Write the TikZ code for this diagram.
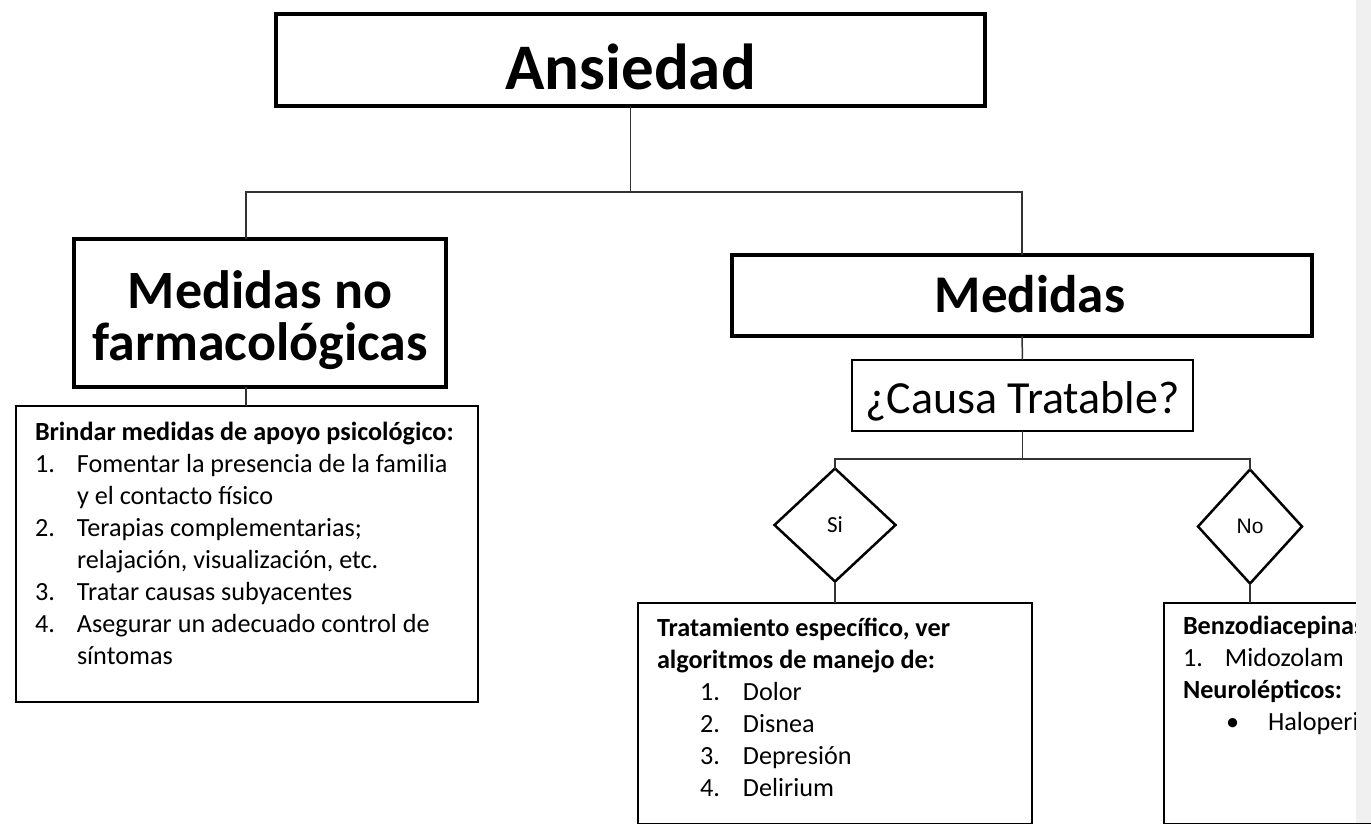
\documentclass[tikz,border=0pt]{standalone}
\usepackage{fontspec}
\setmainfont{Carlito}
\newfontfamily\arialf{Liberation Sans}
\usepackage{array}
\usetikzlibrary{shapes.geometric}
\definecolor{stripgray}{HTML}{F0F0F0}
\begin{document}
\begin{tikzpicture}[x=1pt,y=-1pt,
  thickbox/.style={draw=black,line width=4pt,rectangle,inner sep=0pt,outer sep=0pt},
  thinbox/.style={draw=black,line width=1.8pt,rectangle,inner sep=0pt,outer sep=0pt},
  dia/.style={draw=black,line width=2.5pt,diamond,inner sep=0pt,outer sep=0pt},
  conn/.style={draw=black!80,line width=1.5pt},
  txt/.style={inner sep=0pt,outer sep=0pt,anchor=base west,font=\fontsize{26.2}{32}\selectfont}
]
\useasboundingbox (0,0) rectangle (1371,823);
\fill[white] (0,0) rectangle (1371,823);

% main boxes
\node[thickbox,minimum width=709pt,minimum height=92pt,text height=58pt,text depth=0pt,
      font=\fontsize{65}{78}\selectfont\bfseries] (ans) at (630.5,60) {Ansiedad};
\node[thickbox,minimum width=372pt,minimum height=148pt,align=center,text height=94pt,text depth=0pt,
      font=\fontsize{54}{52}\selectfont\bfseries] (mnf) at (260,313) {Medidas no\\farmacológicas};
\node[thickbox,minimum width=580pt,minimum height=81pt,text height=33pt,text depth=0pt,
      font=\fontsize{53}{64}\selectfont\bfseries] (med) at (1022,295.5) {\hspace*{16pt}Medidas};
\node[thinbox,minimum width=341pt,minimum height=71pt,text height=35pt,text depth=0pt,
      font=\fontsize{46}{55}\selectfont] (causa) at (1022.5,395.5) {¿Causa Tratable?};

% decisions
\node[dia,minimum width=121pt,minimum height=113pt,font=\fontsize{23}{28}\selectfont] (si) at (835,525) {Si};
\node[dia,minimum width=104pt,minimum height=114pt,font=\arialf\fontsize{21}{25}\selectfont] (no) at (1250,526.5) {No};

% content boxes
\node[thinbox,minimum width=462pt,minimum height=296pt] (lbox) at (247,554) {};
\node[thinbox,minimum width=394pt,minimum height=220.5pt] (tbox) at (835,713.25) {};
\node[thinbox,minimum width=236pt,minimum height=220.5pt] (bbox) at (1282,713.25) {};

\node[txt] (ltext) at (35,440) {\begin{tabular}[t]{@{}p{42pt}@{}l@{}}
\multicolumn{2}{@{}l@{}}{\bfseries Brindar medidas de apoyo psicológico:}\\
1. & Fomentar la presencia de la familia\\
   & y el contacto físico\\
2. & Terapias complementarias;\\
   & relajación, visualización, etc.\\
3. & Tratar causas subyacentes\\
4. & Asegurar un adecuado control de\\
   & síntomas
\end{tabular}};

\node[txt] (ttext) at (657,636) {\begin{tabular}[t]{@{}p{43pt}@{}p{43pt}@{}l@{}}
\multicolumn{3}{@{}l@{}}{\bfseries Tratamiento específico, ver}\\
\multicolumn{3}{@{}l@{}}{\bfseries algoritmos de manejo de:}\\
 & 1. & Dolor\\
 & 2. & Disnea\\
 & 3. & Depresión\\
 & 4. & Delirium
\end{tabular}};

\node[txt] (btext) at (1183,634) {\begin{tabular}[t]{@{}p{42pt}@{}l@{}}
\multicolumn{2}{@{}l@{}}{\bfseries Benzodiacepinas}\\
1. & Midozolam\\
\multicolumn{2}{@{}l@{}}{\bfseries Neurolépticos:}\\
\multicolumn{2}{@{}l@{}}{\hspace*{43pt}\makebox[42pt][l]{•}Haloperi}
\end{tabular}};

% connectors
\coordinate (b1) at (630.5,192);
\coordinate (b1l) at (246,192);
\coordinate (b2) at (1022.5,459);
\draw[conn] (ans.south) -- (b1);
\draw[conn] (b1l |- mnf.north) -- (b1l) -- (b1 -| med.north) -- (med.north);
\draw[conn] (b1l |- mnf.south) -- (b1l |- lbox.north);
\draw[conn] (med.south) -- (causa.north);
\draw[conn] (causa.south) -- (b2);
\draw[conn] (si.north) |- (b2) -| (no.north);
\draw[conn] (si.south) -- (tbox.north);
\draw[conn] (no.south) -- (no.south |- bbox.north);

% page edge strip
\fill[stripgray] (1356,0) rectangle (1371,823);
\end{tikzpicture}
\end{document}
